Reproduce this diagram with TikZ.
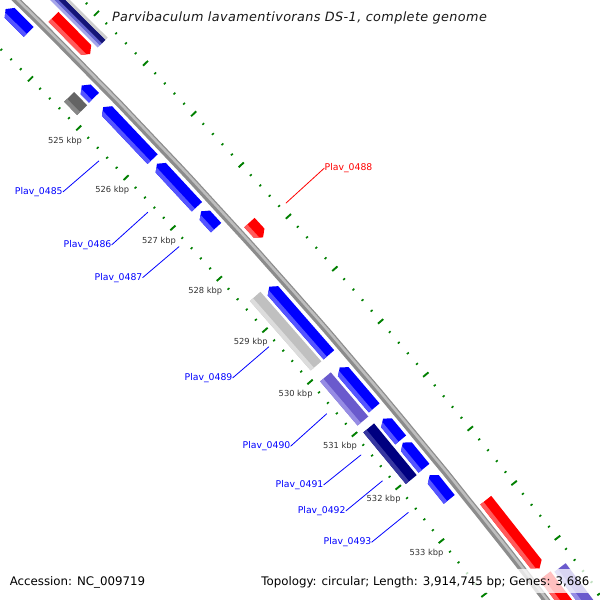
\documentclass[tikz,border=0pt]{standalone}
\usepackage{fontspec}
\setmainfont{DejaVu Sans}
\newfontfamily\titlefont{DejaVu Sans Oblique}[LetterSpace=3]
\definecolor{tickgreen}{RGB}{0,128,0}
\definecolor{fblue}{RGB}{0,0,255}
\definecolor{fbluel}{RGB}{85,85,255}
\definecolor{fred}{RGB}{255,0,0}
\definecolor{fredl}{RGB}{255,90,90}
\definecolor{fgray}{RGB}{192,192,192}
\definecolor{fgrayl}{RGB}{220,220,220}
\definecolor{fpurple}{RGB}{106,90,205}
\definecolor{fpurplel}{RGB}{150,140,228}
\definecolor{fnavy}{RGB}{0,0,128}
\definecolor{fnavyl}{RGB}{55,55,160}
\definecolor{fdgray}{RGB}{100,100,100}
\definecolor{fdgrayl}{RGB}{135,135,135}
\definecolor{bbone}{RGB}{140,140,140}
\definecolor{bbonel}{RGB}{190,190,190}
\definecolor{kbptext}{RGB}{50,50,50}
\definecolor{stkA}{RGB}{165,165,235}
\definecolor{stkB}{RGB}{100,100,210}
\definecolor{stkC}{RGB}{20,20,120}
\definecolor{stkD}{RGB}{205,205,205}
\pgfmathdeclarefunction{kang}{1}{\pgfmathparse{-44.77+0.691*(#1-524)}}
% reverse-strand arrow (head at start)
\newcommand\revfeat[5]{%
  \pgfmathsetmacro\fka{kang(#1)}%
  \pgfmathsetmacro\fkb{kang(#2)}%
  \pgfmathsetmacro\fkh{kang(#1+0.08)}%
  \pgfmathsetmacro\fkc{kang(#1+0.032)}%
  \fill[#4] (\fka:#3+7) -- (\fkh:#3+14) -- (\fkb:#3+14) -- (\fkb:#3) -- (\fkh:#3) -- cycle;
  \fill[#5] (\fkc:#3+4.2) -- (\fkh:#3) -- (\fkb:#3) -- (\fkb:#3+4.2) -- cycle;
}
% forward-strand arrow (head at end)
\newcommand\fwdfeat[5]{%
  \pgfmathsetmacro\fka{kang(#1)}%
  \pgfmathsetmacro\fkb{kang(#2)}%
  \pgfmathsetmacro\fkh{kang(#2-0.08)}%
  \pgfmathsetmacro\fkc{kang(#2-0.032)}%
  \fill[#4] (\fka:#3) -- (\fkh:#3) -- (\fkb:#3+7) -- (\fkh:#3+14) -- (\fka:#3+14) -- cycle;
  \fill[#5] (\fka:#3) -- (\fkh:#3) -- (\fkc:#3+4.2) -- (\fka:#3+4.2) -- cycle;
}
% plain box
\newcommand\boxfeat[5]{%
  \pgfmathsetmacro\fka{kang(#1)}%
  \pgfmathsetmacro\fkb{kang(#2)}%
  \fill[#4] (\fka:#3) -- (\fkb:#3) -- (\fkb:#3+14) -- (\fka:#3+14) -- cycle;
  \fill[#5] (\fka:#3) -- (\fkb:#3) -- (\fkb:#3+4.2) -- (\fka:#3+4.2) -- cycle;
}
\newcommand\bandfeat[5]{%
  \pgfmathsetmacro\fka{kang(#1)}%
  \pgfmathsetmacro\fkb{kang(#2)}%
  \fill[#5] (\fka:#3) -- (\fkb:#3) -- (\fkb:#4) -- (\fka:#4) -- cycle;
}
\tikzset{
  longtick/.style={draw=tickgreen, line width=1.9pt},
  dottick/.style={draw=tickgreen, line width=1.6pt},
  kbpl/.style={font=\fontsize{8.3}{10}\selectfont, text=kbptext, inner sep=0pt},
  flabel/.style={font=\fontsize{9.3}{11}\selectfont, inner sep=0pt},
  bline/.style={draw=fblue, line width=0.8pt},
  rline/.style={draw=fred, line width=0.8pt},
  foot/.style={font=\fontsize{11.8}{14}\selectfont, inner sep=0pt, text=black},
}
\begin{document}
\begin{tikzpicture}[x=1pt, y=-1pt]
\useasboundingbox (0,0) rectangle (600,600);
\begin{scope}
\clip (0,0) rectangle (600,600);
\fill[white] (0,0) rectangle (600,600);
\begin{scope}[shift={(-4016,4093)}]
  % ruler ticks
  \foreach \i in {0,...,80} {
    \pgfmathsetmacro\ta{kang(521+0.2*\i)}
    \pgfmathtruncatemacro\tm{mod(\i,5)}
    \ifnum\tm=0
      \draw[longtick] (\ta:5696.5) -- (\ta:5703.5);
      \draw[longtick] (\ta:5789.5) -- (\ta:5796.5);
    \else
      \draw[dottick] (\ta:5698.8) -- (\ta:5701.2);
      \draw[dottick] (\ta:5791.8) -- (\ta:5794.2);
    \fi
  }
  % backbone
  \draw[bbone, line width=7pt] plot[domain=-46.5:-36.5, samples=60] (\x:5746);
  \draw[bbonel, line width=2.5pt] plot[domain=-46.5:-36.5, samples=60] (\x:5747);
  % inner row 1 (reverse strand, blue)
  \revfeat{523.03}{523.50}{5725}{fblue}{fbluel}
  \revfeat{524.59}{524.84}{5725}{fblue}{fbluel}
  \revfeat{525.03}{526.07}{5725}{fblue}{fbluel}
  \revfeat{526.16}{527.01}{5725}{fblue}{fbluel}
  \revfeat{527.10}{527.42}{5725}{fblue}{fbluel}
  \revfeat{528.57}{529.88}{5725}{fblue}{fbluel}
  \revfeat{530.12}{530.89}{5725}{fblue}{fbluel}
  \revfeat{531.09}{531.49}{5725}{fblue}{fbluel}
  \revfeat{531.54}{532.02}{5725}{fblue}{fbluel}
  \revfeat{532.15}{532.60}{5725}{fblue}{fbluel}
  % inner row 2
  \boxfeat{524.58}{524.85}{5708}{fdgray}{fdgrayl}
  \boxfeat{528.54}{529.88}{5708}{fgray}{fgrayl}
  \boxfeat{530.09}{530.93}{5708}{fpurple}{fpurplel}
  \boxfeat{531.06}{532.03}{5708}{fnavy}{fnavyl}
  % outer row 1 (forward strand, red)
  \fwdfeat{523.60}{524.35}{5753}{fred}{fredl}
  \fwdfeat{527.69}{527.98}{5753}{fred}{fredl}
  \fwdfeat{532.94}{534.19}{5753}{fred}{fredl}
  \fwdfeat{534.32}{536.50}{5753}{fred}{fredl}
  % outer row 2
  \bandfeat{522.50}{524.36}{5770}{5773}{stkA}
  \bandfeat{522.50}{524.36}{5773}{5776}{stkB}
  \bandfeat{522.50}{524.36}{5776}{5781}{stkC}
  \bandfeat{522.50}{524.36}{5781}{5784}{stkD}
  \boxfeat{534.36}{536.50}{5770}{fpurple}{fpurplel}
  % kbp labels
  \foreach \k in {525,...,533}
    \node[kbpl] (kbp\k) at ({kang(\k)}:5681) {\k\ kbp};
  % label anchor points
  \coordinate (p485) at ({kang(525.55)}:5692);
  \coordinate (p486) at ({kang(526.585)}:5692);
  \coordinate (p487) at ({kang(527.26)}:5692);
  \coordinate (p488) at ({kang(527.835)}:5800);
  \coordinate (p489) at ({kang(529.22)}:5692);
  \coordinate (p490) at ({kang(530.51)}:5692);
  \coordinate (p491) at ({kang(531.29)}:5692);
  \coordinate (p492) at ({kang(531.78)}:5692);
  \coordinate (p493) at ({kang(532.375)}:5692);
\end{scope}
% feature labels
\node[flabel, text=fblue] (l485) at (38.8,192) {Plav\_0485};
\node[flabel, text=fblue] (l486) at (87.5,245) {Plav\_0486};
\node[flabel, text=fblue] (l487) at (118.5,277.7) {Plav\_0487};
\node[flabel, text=fred] (l488) at (348.5,168) {Plav\_0488};
\node[flabel, text=fblue] (l489) at (208.5,378) {Plav\_0489};
\node[flabel, text=fblue] (l490) at (266.5,446.3) {Plav\_0490};
\node[flabel, text=fblue] (l491) at (299.5,485) {Plav\_0491};
\node[flabel, text=fblue] (l492) at (321.7,511) {Plav\_0492};
\node[flabel, text=fblue] (l493) at (347.5,542.3) {Plav\_0493};
\draw[bline] (l485.east) -- (p485);
\draw[bline] (l486.east) -- (p486);
\draw[bline] (l487.east) -- (p487);
\draw[rline] (l488.west) -- (p488);
\draw[bline] (l489.east) -- (p489);
\draw[bline] (l490.east) -- (p490);
\draw[bline] (l491.east) -- (p491);
\draw[bline] (l492.east) -- (p492);
\draw[bline] (l493.east) -- (p493);
% footer
\fill[white, opacity=0.75] (256,569) rectangle (600,593);
\node[foot, anchor=west] (acc) at (9.6,582.5) {Accession: NC\_009719};
\node[foot, anchor=east] (topo) at (589.5,582.5) {Topology: circular; Length: 3,914,745 bp; Genes: 3,686};
% title
\node[inner sep=0pt, font=\fontsize{12.8}{15}\titlefont, text=black!90] (title) at (299.5,18) {Parvibaculum lavamentivorans DS-1, complete genome};
\end{scope}
\end{tikzpicture}
\end{document}
